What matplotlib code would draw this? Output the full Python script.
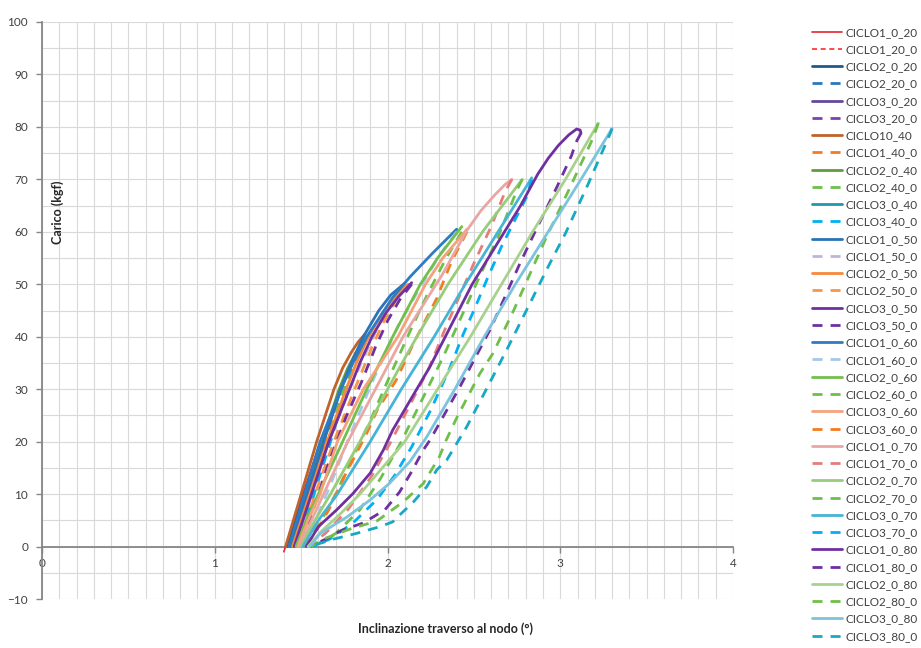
import matplotlib
matplotlib.use("Agg")
import matplotlib.pyplot as plt
from matplotlib.ticker import MultipleLocator

plt.rcParams['font.family'] = ['Lato', 'DejaVu Sans']

# ---------------- data (x = inclination in degrees, y = load kgf) ----------------
C1_0_20_X = [1.40, 1.45, 1.50, 1.55, 1.60, 1.62]
C1_0_20_Y = [-1.0, 4.0, 9.0, 14.0, 19.0, 20.5]
C1_20_0_X = [1.62, 1.58, 1.53, 1.48, 1.44, 1.42]
C1_20_0_Y = [20.5, 16.0, 11.0, 6.0, 2.0, 0.0]
C2_0_20_X = [1.42, 1.47, 1.52, 1.57, 1.62]
C2_0_20_Y = [0.0, 5.0, 10.0, 15.0, 20.0]
C2_20_0_X = [1.62, 1.575, 1.53, 1.485, 1.45]
C2_20_0_Y = [20.0, 15.0, 10.0, 5.0, 0.0]
C3_0_20_X = [1.44, 1.49, 1.54, 1.59, 1.64]
C3_0_20_Y = [0.0, 5.0, 10.0, 15.0, 20.0]
C3_20_0_X = [1.64, 1.60, 1.555, 1.51, 1.47]
C3_20_0_Y = [20.0, 15.0, 10.0, 5.0, 0.0]

C1_0_40_X = [1.41, 1.50, 1.59, 1.69, 1.74, 1.79, 1.83, 1.87]
C1_0_40_Y = [0.0, 10.0, 20.0, 30.0, 34.0, 37.0, 39.0, 40.5]
C1_40_0_X = [1.87, 1.83, 1.79, 1.73, 1.64, 1.55, 1.47]
C1_40_0_Y = [40.0, 38.0, 35.0, 30.0, 20.0, 10.0, 0.0]
C2_0_40_X = [1.43, 1.53, 1.62, 1.72, 1.77, 1.81, 1.85, 1.88]
C2_0_40_Y = [0.0, 10.0, 20.0, 30.0, 34.0, 36.5, 38.5, 40.0]
C2_40_0_X = [1.88, 1.84, 1.80, 1.745, 1.655, 1.56, 1.48]
C2_40_0_Y = [40.0, 38.0, 35.0, 30.0, 20.0, 10.0, 0.0]
C3_0_40_X = [1.44, 1.54, 1.63, 1.73, 1.78, 1.82, 1.86, 1.89]
C3_0_40_Y = [0.0, 10.0, 20.0, 30.0, 34.0, 36.5, 38.5, 40.0]
C3_40_0_X = [1.89, 1.85, 1.81, 1.76, 1.67, 1.575, 1.49]
C3_40_0_Y = [40.0, 38.0, 35.0, 30.0, 20.0, 10.0, 0.0]

C1_0_50_X = [1.44, 1.535, 1.63, 1.73, 1.79, 1.86, 1.95, 2.02, 2.10]
C1_0_50_Y = [0.0, 10.0, 20.0, 30.0, 35.0, 40.0, 45.0, 48.0, 50.2]
C1_50_0_X = [2.10, 2.03, 1.96, 1.89, 1.78, 1.66, 1.56, 1.48]
C1_50_0_Y = [50.0, 47.0, 43.0, 38.0, 30.0, 20.0, 10.0, 0.0]
C2_0_50_X = [1.45, 1.55, 1.65, 1.76, 1.82, 1.89, 1.97, 2.04, 2.12]
C2_0_50_Y = [0.0, 10.0, 20.0, 30.0, 35.0, 40.0, 44.5, 47.5, 50.0]
C2_50_0_X = [2.12, 2.05, 1.98, 1.91, 1.81, 1.69, 1.58, 1.49]
C2_50_0_Y = [50.0, 47.0, 43.0, 38.0, 30.0, 20.0, 10.0, 0.0]
C3_0_50_X = [1.46, 1.56, 1.66, 1.78, 1.84, 1.91, 1.99, 2.06, 2.14]
C3_0_50_Y = [0.0, 10.0, 20.0, 30.0, 35.0, 40.0, 44.5, 47.5, 50.3]
C3_50_0_X = [2.14, 2.07, 2.00, 1.93, 1.85, 1.76, 1.66, 1.57, 1.50]
C3_50_0_Y = [50.0, 47.0, 43.0, 38.0, 31.4, 24.7, 16.0, 7.0, 0.0]

C1_0_60_X = [1.43, 1.52, 1.61, 1.73, 1.80, 1.88, 1.96, 2.03, 2.13, 2.26, 2.40]
C1_0_60_Y = [0.0, 10.0, 20.0, 30.0, 35.0, 40.0, 44.0, 47.5, 51.4, 55.9, 60.5]
C1_60_0_X = [2.40, 2.31, 2.20, 2.06, 1.92, 1.78, 1.66, 1.57, 1.51]
C1_60_0_Y = [60.0, 56.0, 50.0, 42.0, 32.0, 21.0, 11.0, 4.0, 0.0]
C2_0_60_X = [1.47, 1.53, 1.60, 1.74, 1.88, 2.03, 2.19, 2.29, 2.43]
C2_0_60_Y = [0.0, 5.0, 10.0, 20.0, 30.0, 40.0, 50.0, 55.0, 61.0]
C2_60_0_X = [2.43, 2.34, 2.23, 2.13, 2.02, 1.90, 1.80, 1.70, 1.60, 1.52]
C2_60_0_Y = [60.0, 55.0, 48.0, 41.0, 33.0, 24.0, 17.0, 10.0, 4.0, 0.0]
C3_0_60_X = [1.48, 1.54, 1.61, 1.71, 1.86, 2.06, 2.22, 2.32, 2.46]
C3_0_60_Y = [0.0, 5.0, 10.0, 20.0, 30.0, 40.0, 50.0, 55.0, 60.5]
C3_60_0_X = [2.46, 2.37, 2.285, 2.15, 2.05, 1.94, 1.88, 1.76, 1.66, 1.57, 1.52]
C3_60_0_Y = [60.0, 54.3, 47.3, 38.7, 31.7, 26.0, 21.6, 14.0, 7.0, 2.0, 0.0]

C1_0_70_X = [1.49, 1.56, 1.63, 1.77, 1.93, 2.09, 2.32, 2.46, 2.54, 2.62, 2.68, 2.72]
C1_0_70_Y = [0.0, 5.0, 10.0, 20.0, 30.0, 40.0, 52.0, 60.3, 64.0, 67.0, 69.0, 70.0]
C1_70_0_X = [2.72, 2.68, 2.60, 2.50, 2.44, 2.34, 2.24, 2.13, 2.02, 1.90, 1.77, 1.64, 1.54]
C1_70_0_Y = [70.0, 67.6, 61.0, 54.0, 49.5, 42.0, 34.0, 27.0, 20.0, 13.0, 7.0, 2.5, 0.0]
C2_0_70_X = [1.50, 1.58, 1.67, 1.84, 2.00, 2.17, 2.35, 2.55, 2.78]
C2_0_70_Y = [0.0, 5.0, 10.0, 20.0, 30.0, 40.0, 50.0, 60.0, 70.0]
C2_70_0_X = [2.78, 2.75, 2.64, 2.54, 2.43, 2.32, 2.20, 2.08, 1.96, 1.84, 1.70, 1.57]
C2_70_0_Y = [70.0, 68.0, 59.0, 52.0, 44.0, 36.0, 28.0, 20.0, 13.0, 7.0, 2.5, 0.0]
C3_0_70_X = [1.51, 1.60, 1.71, 1.90, 2.08, 2.27, 2.45, 2.64, 2.835]
C3_0_70_Y = [0.0, 5.0, 10.0, 20.0, 30.0, 40.0, 50.0, 60.0, 70.3]
C3_70_0_X = [2.835, 2.806, 2.66, 2.574, 2.50, 2.44, 2.36, 2.25, 2.14, 2.04, 1.94, 1.80, 1.67, 1.57]
C3_70_0_Y = [70.0, 66.7, 57.2, 50.8, 45.0, 40.6, 34.0, 26.0, 19.0, 13.5, 9.0, 4.5, 1.5, 0.0]

C1_0_80_X = [1.53, 1.60, 1.706, 1.80, 1.90, 1.976, 2.03, 2.246, 2.49, 2.767, 2.82, 2.87, 2.93,
             2.99, 3.05, 3.095, 3.115, 3.12]
C1_0_80_Y = [0.0, 3.8, 7.0, 10.1, 14.0, 18.4, 22.2, 34.3, 50.0, 64.8, 68.0, 71.0, 74.0,
             76.5, 78.5, 79.6, 79.4, 78.8]
C1_80_0_X = [3.12, 3.09, 3.066, 2.98, 2.854, 2.767, 2.68, 2.593, 2.42, 2.246, 2.207, 2.14, 2.07,
             1.985, 1.86, 1.735, 1.655, 1.57, 1.55]
C1_80_0_Y = [78.8, 77.0, 74.6, 68.5, 60.0, 54.0, 47.6, 41.3, 30.5, 20.3, 18.4, 14.3, 10.4,
             7.0, 4.5, 3.1, 1.6, 0.3, 0.0]
C2_0_80_X = [1.54, 1.62, 1.72, 1.84, 1.97, 2.10, 2.29, 2.48, 2.66, 2.84, 3.03, 3.22]
C2_0_80_Y = [0.0, 3.0, 6.0, 10.0, 15.0, 20.0, 30.0, 40.0, 50.0, 60.0, 70.0, 80.7]
C2_80_0_X = [3.22, 3.19, 3.05, 2.92, 2.825, 2.73, 2.61, 2.535, 2.40, 2.34, 2.30, 2.207, 2.09,
             1.94, 1.78, 1.61, 1.56]
C2_80_0_Y = [80.7, 77.9, 68.0, 59.0, 52.0, 45.0, 36.8, 33.0, 24.5, 20.3, 17.1, 12.0, 8.5,
             4.9, 3.3, 1.2, 0.0]
C3_0_80_X = [1.55, 1.61, 1.764, 1.90, 2.01, 2.13, 2.227, 2.39, 2.56, 2.74, 2.93, 3.12, 3.30]
C3_0_80_Y = [0.0, 2.5, 5.6, 8.9, 12.0, 16.2, 20.9, 30.0, 40.0, 50.0, 60.0, 70.0, 79.7]
C3_80_0_X = [3.30, 3.29, 3.16, 3.03, 2.94, 2.825, 2.69, 2.555, 2.458, 2.343, 2.285, 2.227, 2.15,
             2.07, 2.03, 1.957, 1.82, 1.686, 1.58, 1.57]
C3_80_0_Y = [79.7, 78.8, 69.0, 59.7, 54.0, 46.4, 37.5, 28.9, 22.8, 16.5, 14.6, 11.4, 8.5,
             6.0, 4.7, 3.8, 2.5, 1.4, 0.3, 0.0]

LABELS = ["CICLO1_0_20", "CICLO1_20_0", "CICLO2_0_20", "CICLO2_20_0", "CICLO3_0_20", "CICLO3_20_0",
          "CICLO10_40", "CICLO1_40_0", "CICLO2_0_40", "CICLO2_40_0", "CICLO3_0_40", "CICLO3_40_0",
          "CICLO1_0_50", "CICLO1_50_0", "CICLO2_0_50", "CICLO2_50_0", "CICLO3_0_50", "CICLO3_50_0",
          "CICLO1_0_60", "CICLO1_60_0", "CICLO2_0_60", "CICLO2_60_0", "CICLO3_0_60", "CICLO3_60_0",
          "CICLO1_0_70", "CICLO1_70_0", "CICLO2_0_70", "CICLO2_70_0", "CICLO3_0_70", "CICLO3_70_0",
          "CICLO1_0_80", "CICLO1_80_0", "CICLO2_0_80", "CICLO2_80_0", "CICLO3_0_80", "CICLO3_80_0"]

XS = [C1_0_20_X, C1_20_0_X, C2_0_20_X, C2_20_0_X, C3_0_20_X, C3_20_0_X,
      C1_0_40_X, C1_40_0_X, C2_0_40_X, C2_40_0_X, C3_0_40_X, C3_40_0_X,
      C1_0_50_X, C1_50_0_X, C2_0_50_X, C2_50_0_X, C3_0_50_X, C3_50_0_X,
      C1_0_60_X, C1_60_0_X, C2_0_60_X, C2_60_0_X, C3_0_60_X, C3_60_0_X,
      C1_0_70_X, C1_70_0_X, C2_0_70_X, C2_70_0_X, C3_0_70_X, C3_70_0_X,
      C1_0_80_X, C1_80_0_X, C2_0_80_X, C2_80_0_X, C3_0_80_X, C3_80_0_X]
YS = [C1_0_20_Y, C1_20_0_Y, C2_0_20_Y, C2_20_0_Y, C3_0_20_Y, C3_20_0_Y,
      C1_0_40_Y, C1_40_0_Y, C2_0_40_Y, C2_40_0_Y, C3_0_40_Y, C3_40_0_Y,
      C1_0_50_Y, C1_50_0_Y, C2_0_50_Y, C2_50_0_Y, C3_0_50_Y, C3_50_0_Y,
      C1_0_60_Y, C1_60_0_Y, C2_0_60_Y, C2_60_0_Y, C3_0_60_Y, C3_60_0_Y,
      C1_0_70_Y, C1_70_0_Y, C2_0_70_Y, C2_70_0_Y, C3_0_70_Y, C3_70_0_Y,
      C1_0_80_Y, C1_80_0_Y, C2_0_80_Y, C2_80_0_Y, C3_0_80_Y, C3_80_0_Y]

# ---------------- styles ----------------
COLORS = ['#e3262b', '#ff2a2a', '#1f5a8a', '#2a78bd', '#66479a', '#7e3fb0',
          '#c0622b', '#f47b20', '#5e9e3a', '#6cc04a', '#1f97ad', '#00b0f0',
          '#2a73b8', '#c3b3d9', '#f7893b', '#f79646', '#7030a0', '#7030a0',
          '#2e7bc4', '#a5c8e6', '#72c04c', '#6cc04a', '#f5a27a', '#f47b20',
          '#e8a7a3', '#e57d79', '#97cc7a', '#6cc04a', '#47b4d6', '#00b0f0',
          '#6f2fa0', '#7030a0', '#a9d18e', '#70bf4a', '#7cc3dc', '#17a9c4']

fig = plt.figure(figsize=(9.21, 6.48), dpi=100)
ax = fig.add_axes([42 / 921, 1 - 599 / 648, (733 - 42) / 921, (599 - 22) / 648])

for i, (lab, xs, ys, col) in enumerate(zip(LABELS, XS, YS, COLORS)):
    dashed = i % 2 == 1
    lw = 1.2 if i < 2 else 2.0
    if dashed:
        ls = (0, (3.0, 2.2)) if i < 2 else (0, (3.6, 2.9))
    else:
        ls = '-'
    ax.plot(xs, ys, color=col, lw=lw, linestyle=ls, label=lab,
            solid_capstyle='round', solid_joinstyle='round',
            dash_capstyle='butt', zorder=3 + i * 0.01)

ax.set_xlim(0, 4)
ax.set_ylim(-10, 100)
ax.xaxis.set_major_locator(MultipleLocator(1))
ax.xaxis.set_minor_locator(MultipleLocator(0.1))
ax.yaxis.set_major_locator(MultipleLocator(10))
ax.yaxis.set_minor_locator(MultipleLocator(5))
ax.grid(which='both', color='#d9d9d9', lw=0.8, zorder=0)
ax.set_axisbelow(True)

for s in ['top', 'right']:
    ax.spines[s].set_visible(False)
ax.spines['bottom'].set_position(('data', 0))
for s in ['bottom', 'left']:
    ax.spines[s].set_color('#868686')
    ax.spines[s].set_linewidth(1.3)
    ax.spines[s].set_zorder(2.5)

ax.tick_params(which='minor', length=0)
ax.tick_params(which='major', direction='out', length=4, width=1.0, color='#868686',
               labelsize=8.5, labelcolor='#404040')
ax.tick_params(axis='x', pad=4)
ax.tick_params(axis='y', pad=6)

fig.text(58 / 921, 1 - 212 / 648, "Carico (kgf)", rotation=90, ha='center', va='center',
         fontsize=9, fontweight='bold', color='#262626')
fig.text(445 / 921, 1 - 629 / 648, "Inclinazione traverso al nodo (°)", ha='center', va='center',
         fontsize=9, fontweight='bold', color='#262626')

fig.legend(loc='upper left', bbox_to_anchor=(807 / 921, 1 - 22 / 648), frameon=False,
           fontsize=8.5, labelspacing=0.53, handlelength=2.6, handletextpad=0.3,
           borderaxespad=0, labelcolor='#404040')

fig.savefig('out.png', dpi=100)
